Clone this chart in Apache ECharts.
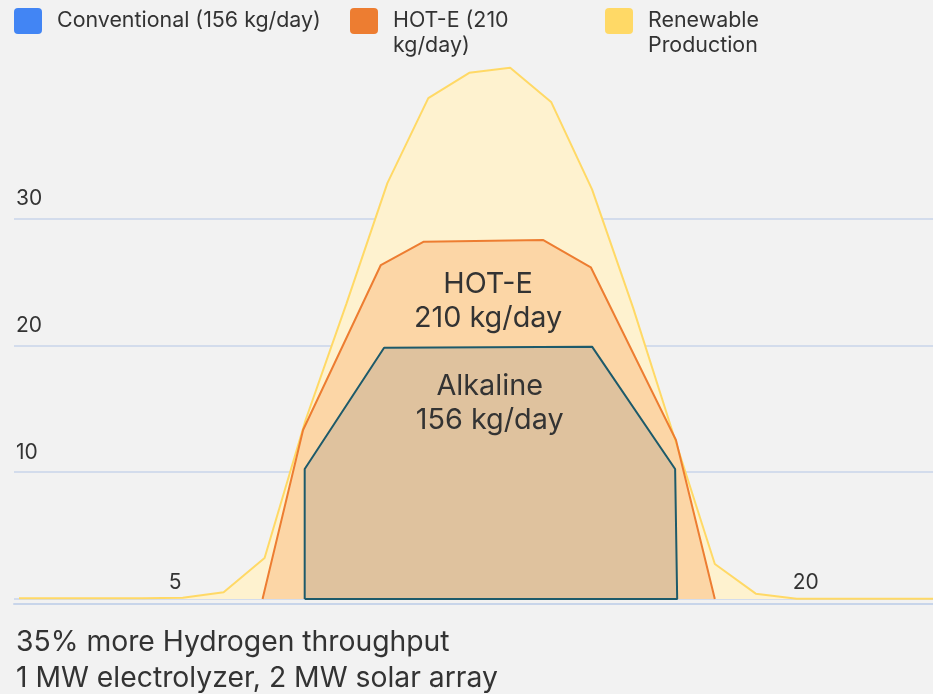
<!DOCTYPE html>
<html>
<head>
<meta charset="utf-8">
<script src="https://cdn.jsdelivr.net/npm/echarts@6/dist/echarts.min.js"></script>
<style>
  html, body { margin: 0; padding: 0; background: #f2f2f2; }
  #chart { width: 933px; height: 694px; }
</style>
</head>
<body>
<div id="chart"></div>
<script>
// renewable production, one point per hour
const renewableHours = [1, 2, 3, 4, 5, 6, 7, 8, 9, 10, 11, 12, 13, 14, 15, 16, 17, 18, 19, 20, 21, 22, 23, 24];
const renewableValues = [0.05, 0.05, 0.05, 0.05, 0.1, 0.53, 3.23, 14.1, 23.3, 32.8, 39.5, 41.5, 41.9, 39.2, 32.3, 23.0, 12.85, 2.76, 0.42, 0.02, 0.02, 0.02, 0.02, 0.02];

// HOT-E electrolyzer profile
const hotEHours = [6.95, 7.94, 9.84, 10.89, 13.81, 14.97, 17.05, 18.0];
const hotEValues = [0, 13.33, 26.34, 28.18, 28.31, 26.16, 12.54, 0];

// alkaline (conventional) profile, closed along the bottom
const alkalineHours = [7.98, 7.98, 9.92, 15.0, 17.03, 17.08, 7.98];
const alkalineValues = [0, 10.25, 19.82, 19.9, 10.25, 0, 0];

const yTickLabels = [10, 20, 30];
const xTickLabels = [5, 20];

const seriesNames = ['Conventional (156 kg/day)', 'HOT-E (210 kg/day)', 'Renewable Production'];
const legendLabels = ['Conventional (156 kg/day)', 'HOT-E (210\nkg/day)', 'Renewable\nProduction'];
const legendColors = ['#4285f4', '#ed7d31', '#ffd966'];

const FONT = 'Inter';
const TEXT_COLOR = '#333333';
const GRID_COLOR = '#c8d5ea';
const ICON = 'path://M4,0H24A4,4,0,0,1,28,4V22A4,4,0,0,1,24,26H4A4,4,0,0,1,0,22V4A4,4,0,0,1,4,0Z';

const zip = (xs, ys) => xs.map((x, i) => [x, ys[i]]);

// one legend per item so each can sit where the reference puts it
const legendItem = (index, left) => {
  const multiLine = legendLabels[index].indexOf('\n') !== -1;
  return {
    left,
    top: multiLine ? -16.5 : 8,
    padding: 0,
    selectedMode: false,
    icon: ICON,
    itemWidth: 28,
    itemHeight: 26,
    data: [{ name: seriesNames[index], itemStyle: { color: legendColors[index], borderWidth: 0 } }],
    // empty first line keeps the first real line level with the icon
    formatter: () => (multiLine ? '\n' : '') + legendLabels[index],
    textStyle: {
      fontFamily: FONT,
      fontSize: 21.4,
      lineHeight: 25,
      color: TEXT_COLOR,
      padding: [0, 0, 0, 10]
    }
  };
};

const annotation = (text, coord) => ({
  symbol: 'rect',
  symbolSize: 1,
  silent: true,
  itemStyle: { color: 'rgba(0,0,0,0)' },
  label: {
    show: true,
    position: 'inside',
    formatter: text,
    fontFamily: FONT,
    fontSize: 28.8,
    lineHeight: 34,
    color: TEXT_COLOR
  },
  data: [{ coord }]
});

const chart = echarts.init(document.getElementById('chart'));

chart.setOption({
  animation: false,
  backgroundColor: '#f2f2f2',
  textStyle: { fontFamily: FONT },
  title: {
    text: '35% more Hydrogen throughput\n1 MW electrolyzer, 2 MW solar array',
    left: 16,
    top: 624,
    padding: 0,
    textStyle: {
      fontFamily: FONT,
      fontSize: 28.3,
      fontWeight: 'normal',
      lineHeight: 36,
      color: TEXT_COLOR
    }
  },
  legend: [legendItem(0, 14), legendItem(1, 350), legendItem(2, 605)],
  grid: { left: 14, right: 0, top: 28.4, bottom: 95 },
  xAxis: [
    {
      // data axis, hours
      type: 'value',
      min: 0.878,
      max: 23.33,
      show: false
    },
    {
      // label axis
      type: 'value',
      min: 1.171,
      max: 23.026,
      position: 'bottom',
      offset: 5,
      axisLine: { show: true, lineStyle: { color: GRID_COLOR, width: 2 } },
      axisTick: { show: false },
      splitLine: { show: false },
      axisLabel: {
        inside: true,
        margin: 11,
        customValues: xTickLabels,
        fontFamily: FONT,
        fontSize: 21,
        color: TEXT_COLOR
      }
    }
  ],
  yAxis: {
    type: 'value',
    min: 0,
    max: 45,
    interval: 10,
    axisLine: { show: false },
    axisTick: { show: false },
    axisLabel: {
      inside: true,
      margin: 2,
      verticalAlign: 'bottom',
      padding: [0, 0, 9, 0],
      fontFamily: FONT,
      fontSize: 21,
      lineHeight: 21,
      color: TEXT_COLOR,
      formatter: v => (yTickLabels.includes(v) ? String(v) : '')
    },
    splitLine: {
      lineStyle: {
        color: [GRID_COLOR, GRID_COLOR, GRID_COLOR, GRID_COLOR, 'rgba(0,0,0,0)', 'rgba(0,0,0,0)'],
        width: 1.5
      }
    }
  },
  series: [
    {
      name: seriesNames[2],
      type: 'line',
      xAxisIndex: 0,
      data: zip(renewableHours, renewableValues),
      symbol: 'none',
      itemStyle: { color: legendColors[2] },
      lineStyle: { color: '#ffd966', width: 2 },
      areaStyle: { color: '#fef2cf', opacity: 1 }
    },
    {
      name: seriesNames[1],
      type: 'line',
      xAxisIndex: 0,
      data: zip(hotEHours, hotEValues),
      symbol: 'none',
      itemStyle: { color: legendColors[1] },
      lineStyle: { color: '#ed7d31', width: 2 },
      areaStyle: { color: '#fcd6a6', opacity: 1 },
      markPoint: annotation('HOT-E\n210 kg/day', [12.46, 23.45])
    },
    {
      name: seriesNames[0],
      type: 'line',
      xAxisIndex: 0,
      data: zip(alkalineHours, alkalineValues),
      symbol: 'none',
      itemStyle: { color: legendColors[0] },
      lineStyle: { color: '#1d5a6a', width: 2 },
      areaStyle: { color: '#dfc29e', opacity: 1 },
      markPoint: annotation('Alkaline\n156 kg/day', [12.5, 15.4])
    }
  ]
});
</script>
</body>
</html>
